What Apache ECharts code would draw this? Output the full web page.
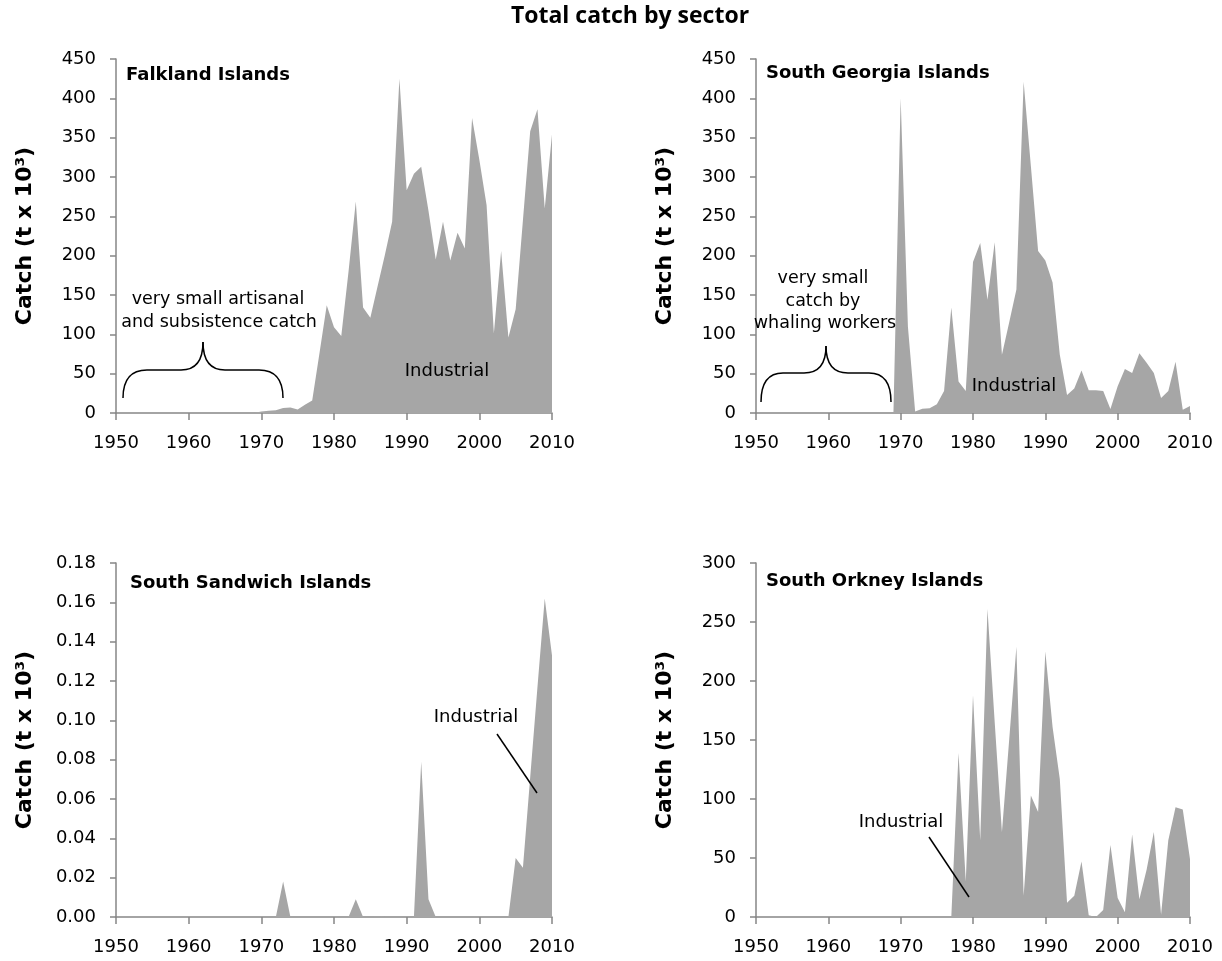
<!DOCTYPE html>
<html>
<head>
<meta charset="utf-8">
<script src="https://cdn.jsdelivr.net/npm/echarts@6/dist/echarts.min.js"></script>
<style>
html,body{margin:0;padding:0;background:#fff;}
#chart{width:1222px;height:961px;}
</style>
</head>
<body>
<div id="chart"></div>
<script>
const years = [
 '1950','1951','1952','1953','1954','1955','1956','1957','1958','1959',
 '1960','1961','1962','1963','1964','1965','1966','1967','1968','1969',
 '1970','1971','1972','1973','1974','1975','1976','1977','1978','1979',
 '1980','1981','1982','1983','1984','1985','1986','1987','1988','1989',
 '1990','1991','1992','1993','1994','1995','1996','1997','1998','1999',
 '2000','2001','2002','2003','2004','2005','2006','2007','2008','2009',
 '2010'];

// Catch (t x 10^3), 1950-2010
const falkland = [
 0,0,0,0,0,0,0,0,0,0,
 0,0,0,0,0,0,0,0,0,0,
 2,3,3.5,6.5,7,4.5,10.5,16,76,137,
 109,98,180,269,134,121,161,201,243,425,
 283,304,313,257,195,243,194,229,209,375,
 322,264,101,206,96,132,245,358,386,260,
 354];
const southGeorgia = [
 0,0,0,0,0,0,0,0,0,0,
 0,0,0,0,0,0,0,0,0,0,
 400,110,2,5.5,6,11,28,134,40,28,
 192,216,144,217,74,115,157,421,314,206,
 194,166,74,23,31,54,29,29,28,5,
 34,56,51,76,64,51,19,28,65,4,
 9];
const southSandwich = [
 0,0,0,0,0,0,0,0,0,0,
 0,0,0,0,0,0,0,0,0,0,
 0,0,0,0.018,0,0,0,0,0,0,
 0,0,0,0.009,0,0,0.0005,0,0,0,
 0,0,0.079,0.009,0,0,0,0,0,0,
 0,0,0,0,0,0.030,0.025,0.071,0.117,0.162,
 0.133];
const southOrkney = [
 0,0,0,0,0,0,0,0,0,0,
 0,0,0,0,0,0,0,0,0,0,
 0,0,0,0,0,0,0,0,139,30,
 188,65,261,165,72,150,229,18,103,89,
 225,161,117,12,18,47,1.5,0,6,61,
 16,4,70,15,40,72,2,65,93,91,
 49];

const panelTitles = ['Falkland Islands','South Georgia Islands','South Sandwich Islands','South Orkney Islands'];
const yMax = [450, 450, 0.18, 300];
const yInterval = [50, 50, 0.02, 50];
const seriesData = [falkland, southGeorgia, southSandwich, southOrkney];

const FONT = 'DejaVu Sans';
const AXIS_GRAY = '#868686';
const AREA_GRAY = '#a6a6a6';

const grids = [
  {left:116, right:670, top:59, height:354},
  {left:756, right:32, top:59, height:354},
  {left:116, right:670, top:563, height:354},
  {left:756, right:32, top:563, height:354}
];

const xAxes = grids.map((g,i)=>({
  type:'category', gridIndex:i, data:years, boundaryGap:false,
  axisLine:{show:true, lineStyle:{color:AXIS_GRAY, width:1.5}},
  axisTick:{show:true, interval:9, length:7, lineStyle:{color:AXIS_GRAY, width:1.5}},
  axisLabel:{interval:9, fontSize:18, color:'#000', fontFamily:FONT, margin:21},
  splitLine:{show:false}
}));
const yAxes = grids.map((g,i)=>({
  type:'value', gridIndex:i, min:0, max:yMax[i], interval:yInterval[i],
  axisLine:{show:true, lineStyle:{color:AXIS_GRAY, width:1.5}},
  axisTick:{show:true, length:6, lineStyle:{color:AXIS_GRAY, width:1.5}},
  axisLabel:{fontSize:18, color:'#000', fontFamily:FONT, margin:20,
    formatter: i===2 ? (v)=>v.toFixed(2) : (v)=>String(v)},
  splitLine:{show:false}
}));
const series = seriesData.map((d,i)=>({
  type:'line', xAxisIndex:i, yAxisIndex:i, data:d,
  symbol:'none', silent:true,
  lineStyle:{width:0}, areaStyle:{color:AREA_GRAY, opacity:1}
}));

const STROKE = {stroke:'#000', lineWidth:1.5, fill:null};
function brace(x0,x1,xm,yb,yh,yt,r,rc){
  const q = (a,b,c,d,e,f)=>({type:'bezierCurve', silent:true, z:100,
    shape:{x1:a,y1:b,cpx1:c,cpy1:d,x2:e,y2:f}, style:STROKE});
  const l = (a,b,c,d)=>({type:'line', silent:true, z:100, shape:{x1:a,y1:b,x2:c,y2:d}, style:STROKE});
  return [
    q(x0,yb, x0,yh, x0+r,yh),
    l(x0+r,yh, xm-rc,yh),
    q(xm-rc,yh, xm,yh, xm,yt),
    q(xm,yt, xm,yh, xm+rc,yh),
    l(xm+rc,yh, x1-r,yh),
    q(x1-r,yh, x1,yh, x1,yb)
  ];
}
function txt(x,y,s,size){
  return {type:'text', x:x, y:y, silent:true, z:100,
    style:{text:s, fill:'#000', font:(size||17.5)+'px "DejaVu Sans"', textAlign:'center', textVerticalAlign:'middle'}};
}
function ylabel(x,y){
  return {type:'text', x:x, y:y, rotation:Math.PI/2, silent:true, z:100,
    style:{text:'Catch (t x 10³)', fill:'#000', font:'bold 22px "DejaVu Sans"', textAlign:'center', textVerticalAlign:'middle'}};
}
function ptitle(x,y,s){
  return {type:'text', x:x, y:y, silent:true, z:100,
    style:{text:s, fill:'#000', font:'bold 18px "DejaVu Sans"', textAlign:'left', textVerticalAlign:'middle'}};
}

const graphic = [
  {type:'text', x:630, y:16, silent:true, z:100,
   style:{text:'Total catch by sector', fill:'#000', font:'bold 23px "Open Sans"', textAlign:'center', textVerticalAlign:'middle'}},
  ylabel(25,236), ylabel(665,236), ylabel(25,740), ylabel(665,740),
  ptitle(126,75,panelTitles[0]), ptitle(766,73,panelTitles[1]),
  ptitle(130,583,panelTitles[2]), ptitle(766,581,panelTitles[3]),
  // Falkland annotations
  txt(218,299,'very small artisanal'),
  txt(219,322,'and subsistence catch'),
  ...brace(123,283,203,398,370,342,24,22),
  txt(447,371,'Industrial',18),
  // South Georgia annotations
  txt(823,278,'very small'),
  txt(823,301,'catch by'),
  txt(825,323,'whaling workers'),
  ...brace(761,891,826,402,373,346,22,22),
  txt(1014,386,'Industrial',18),
  // South Sandwich
  txt(476,717,'Industrial',18),
  {type:'line', silent:true, z:100, shape:{x1:497,y1:734,x2:537,y2:793}, style:STROKE},
  // South Orkney
  txt(901,822,'Industrial',18),
  {type:'line', silent:true, z:100, shape:{x1:929,y1:837,x2:969,y2:897}, style:STROKE}
];

const chart = echarts.init(document.getElementById('chart'), null, {renderer:'canvas'});
chart.setOption({
  animation:false,
  backgroundColor:'#fff',
  grid:grids,
  xAxis:xAxes,
  yAxis:yAxes,
  series:series,
  graphic:graphic
});
</script>
</body>
</html>
